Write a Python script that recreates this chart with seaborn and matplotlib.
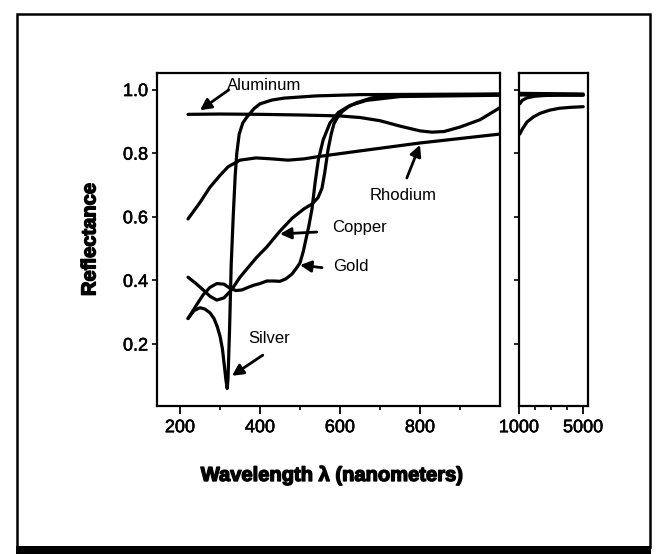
import numpy as np
import pandas as pd
import matplotlib
matplotlib.use("Agg")
import matplotlib.pyplot as plt
import matplotlib.patheffects as pe
import seaborn as sns
from matplotlib.patches import Rectangle
from matplotlib.ticker import FixedLocator

# ---------------- data ----------------
al_x = [220, 300, 400, 500, 600, 650, 700, 750, 800, 830, 860, 900, 950, 1000]
al_y = [0.922, 0.923, 0.922, 0.92, 0.917, 0.912, 0.902, 0.885, 0.87, 0.866, 0.868, 0.882, 0.905, 0.943]

rh_x = [220, 250, 275, 300, 320, 350, 390, 430, 470, 510, 550, 650, 800, 900, 1000]
rh_y = [0.593, 0.645, 0.693, 0.73, 0.757, 0.778, 0.785, 0.782, 0.778, 0.782, 0.79, 0.807, 0.832, 0.846, 0.86]

ag_x = [220, 235, 250, 262, 275, 285, 293, 300, 306, 311, 315, 318, 320, 324, 328, 333, 338, 342,
        348, 357, 367, 385, 400, 430, 460, 540, 650, 1000]
ag_y = [0.28, 0.305, 0.314, 0.31, 0.298, 0.28, 0.255, 0.225, 0.185, 0.13, 0.085, 0.06, 0.09, 0.25,
        0.45, 0.6, 0.73, 0.8, 0.86, 0.895, 0.913, 0.94, 0.955, 0.967, 0.973, 0.98, 0.984, 0.986]

cu_x = [220, 240, 258, 275, 292, 310, 325, 333, 350, 370, 392, 417, 450, 480, 510, 530, 545, 555,
        562, 570, 578, 585, 595, 605, 620, 640, 680, 750, 1000]
cu_y = [0.41, 0.39, 0.37, 0.35, 0.338, 0.345, 0.365, 0.378, 0.41, 0.44, 0.473, 0.505, 0.555, 0.595,
        0.625, 0.64, 0.66, 0.69, 0.74, 0.81, 0.86, 0.893, 0.915, 0.93, 0.945, 0.958, 0.974, 0.981, 0.985]

au_x = [220, 240, 258, 275, 292, 310, 325, 340, 355, 370, 385, 400, 417, 435, 450, 465, 480, 492,
        500, 508, 515, 522, 530, 538, 546, 558, 575, 596, 625, 667, 750, 1000]
au_y = [0.28, 0.32, 0.355, 0.378, 0.39, 0.388, 0.375, 0.368, 0.37, 0.378, 0.385, 0.39, 0.398, 0.398,
        0.397, 0.405, 0.42, 0.44, 0.455, 0.49, 0.53, 0.57, 0.625, 0.71, 0.78, 0.842, 0.895, 0.928,
        0.95, 0.966, 0.978, 0.982]

# long-wavelength panel (1000-5000 nm)
ir_rh_x = [1050, 1200, 1500, 1900, 2300, 2900, 3500, 4200, 5000]
ir_rh_y = [0.86, 0.875, 0.898, 0.914, 0.925, 0.935, 0.941, 0.944, 0.946]
ir_al_x = [1050, 1200, 1500, 2000, 2500, 3500, 5000]
ir_al_y = [0.955, 0.966, 0.974, 0.979, 0.981, 0.983, 0.984]
ir_ag_x = [1050, 5000]
ir_ag_y = [0.988, 0.986]
ir_au_x = [1050, 5000]
ir_au_y = [0.985, 0.984]
ir_cu_x = [1050, 5000]
ir_cu_y = [0.983, 0.982]

y_ticks = [0.2, 0.4, 0.6, 0.8, 1.0]
y_tick_labels = ["0.2", "0.4", "0.6", "0.8", "1.0"]
x_ticks_main = [200, 400, 600, 800]
x_ticks_main_labels = ["200", "400", "600", "800"]
x_ticks_ir = [1000, 5000]
x_ticks_ir_labels = ["1000", "5000"]

# ---------------- figure ----------------
sns.set_style("ticks")
plt.rcParams["font.family"] = ["Liberation Sans", "DejaVu Sans"]
plt.rcParams["text.color"] = "black"
plt.rcParams["axes.labelcolor"] = "black"
plt.rcParams["xtick.color"] = "black"
plt.rcParams["ytick.color"] = "black"

W, H = 663, 554
fig = plt.figure(figsize=(W / 100, H / 100), dpi=100)

def px_rect(l, t, r, b):
    return [l / W, 1 - b / H, (r - l) / W, (b - t) / H]

ax = fig.add_axes(px_rect(157, 73, 500, 406))
ax2 = fig.add_axes(px_rect(519, 73, 588, 406))

line_kw = dict(color="black", linewidth=2.3, estimator=None, sort=False)

main = pd.DataFrame({
    "x": al_x + rh_x + ag_x + cu_x + au_x,
    "y": al_y + rh_y + ag_y + cu_y + au_y,
    "metal": (["Aluminum"] * len(al_x) + ["Rhodium"] * len(rh_x) + ["Silver"] * len(ag_x)
              + ["Copper"] * len(cu_x) + ["Gold"] * len(au_x)),
})
ir = pd.DataFrame({
    "x": ir_rh_x + ir_al_x + ir_ag_x + ir_au_x + ir_cu_x,
    "y": ir_rh_y + ir_al_y + ir_ag_y + ir_au_y + ir_cu_y,
    "metal": (["Rhodium"] * len(ir_rh_x) + ["Aluminum"] * len(ir_al_x) + ["Silver"] * len(ir_ag_x)
              + ["Gold"] * len(ir_au_x) + ["Copper"] * len(ir_cu_x)),
})

for m, d in main.groupby("metal", sort=False):
    sns.lineplot(data=d, x="x", y="y", ax=ax, **line_kw)
for m, d in ir.groupby("metal", sort=False):
    sns.lineplot(data=d, x="x", y="y", ax=ax2, **line_kw)

tick_fx = [pe.withStroke(linewidth=0.4, foreground="black")]
for a in (ax, ax2):
    a.set_ylim(0.005, 1.052)
    a.set_xlabel("")
    a.set_ylabel("")
    for s in a.spines.values():
        s.set_visible(True)
        s.set_linewidth(1.6)
        s.set_color("black")
    a.yaxis.set_major_locator(FixedLocator(y_ticks))
    a.tick_params(axis="y", direction="out", length=3.5, width=1.2, pad=3, labelsize=13)
    a.tick_params(axis="x", which="major", direction="out", length=5.5, width=1.3, pad=4, labelsize=13)
    a.tick_params(axis="x", which="minor", direction="out", length=3, width=1.2)

ax.set_xlim(142.5, 1000)
ax.set_xticks(x_ticks_main)
ax.set_xticklabels(x_ticks_main_labels)
ax.xaxis.set_minor_locator(FixedLocator([300, 500, 700, 900]))
ax.set_yticklabels(y_tick_labels)

ax2.set_xlim(1000, 5300)
ax2.set_xticks(x_ticks_ir)
ax2.set_xticklabels(x_ticks_ir_labels)
ax2.xaxis.set_minor_locator(FixedLocator([2000, 3000, 4000]))
ax2.set_yticklabels([])

for t in ax.get_xticklabels() + ax.get_yticklabels() + ax2.get_xticklabels():
    t.set_path_effects(tick_fx)

heavy = [pe.withStroke(linewidth=1.0, foreground="black")]
ax.set_ylabel("Reflectance", fontsize=14.5, fontweight="bold", path_effects=heavy)
ax.yaxis.set_label_coords(-0.168, 0.5)
ax.set_xlabel("Wavelength λ (nanometers)", fontsize=14.5, fontweight="bold", path_effects=heavy)
ax.xaxis.set_label_coords(0.51, -0.18)

# ---------------- annotations ----------------
arrow = dict(arrowstyle="-|>,head_length=0.55,head_width=0.28", color="black", lw=2.0,
             mutation_scale=12, shrinkA=0, shrinkB=0)
tfs = 12
ax.annotate("", xy=(250, 0.935), xytext=(322, 0.999), arrowprops=arrow)
ax.text(318, 1.014, "Aluminum", fontsize=tfs, ha="left", va="center")

ax.annotate("", xy=(800, 0.826), xytext=(767, 0.722), arrowprops=arrow)
ax.text(757, 0.667, "Rhodium", fontsize=tfs, ha="center", va="center")

ax.annotate("", xy=(450, 0.546), xytext=(542, 0.552), arrowprops=arrow)
ax.text(580, 0.565, "Copper", fontsize=tfs, ha="left", va="center")

ax.annotate("", xy=(500, 0.448), xytext=(555, 0.44), arrowprops=arrow)
ax.text(583, 0.444, "Gold", fontsize=tfs, ha="left", va="center")

ax.annotate("", xy=(330, 0.1), xytext=(407, 0.165), arrowprops=arrow)
ax.text(370, 0.218, "Silver", fontsize=tfs, ha="left", va="center")

# ---------------- outer frame ----------------
fig.add_artist(Rectangle((17 / W, 1 - 547 / H), (650 - 17) / W, (547 - 14) / H,
                         transform=fig.transFigure, fill=False, edgecolor="black", linewidth=1.8))
fig.add_artist(Rectangle((16 / W, 0), (651 - 16) / W, (554 - 546) / H,
                         transform=fig.transFigure, facecolor="black", edgecolor="none"))

fig.savefig("out.png", dpi=100, facecolor="white")
